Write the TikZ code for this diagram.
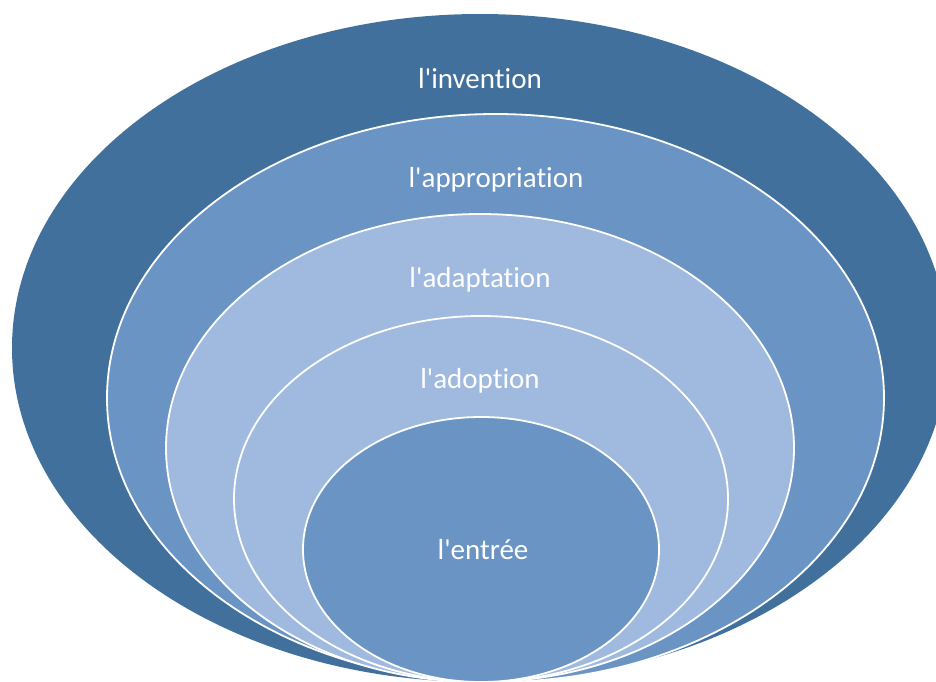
\documentclass[tikz,border=0pt]{standalone}
\usepackage{fontspec}
\setmainfont{Carlito}[Ligatures={TeXOff,CommonOff}]
\definecolor{ringdark}{HTML}{41709C}
\definecolor{ringmid}{HTML}{6A94C4}
\definecolor{ringlight}{HTML}{A0BADF}
\begin{document}
\begin{tikzpicture}[x=1pt,y=1pt,
    ring/.style={draw=white,line width=1.8pt},
    lbl/.style={text=white,font=\fontsize{29}{31}\selectfont,inner sep=0pt}]
    \useasboundingbox (0,0) rectangle (936,-681);
    \clip (0,0) rectangle (936,-681);
    % rings, from the outside in
    \fill[ringdark] (480,-348) ellipse [x radius=468, y radius=334];
    \filldraw[ring,fill=ringmid] (495.5,-398) ellipse [x radius=388.5, y radius=284];
    \filldraw[ring,fill=ringlight] (480,-448) ellipse [x radius=314, y radius=234];
    \filldraw[ring,fill=ringlight] (481,-499) ellipse [x radius=247, y radius=183];
    \filldraw[ring,fill=ringmid] (481,-549.5) ellipse [x radius=178, y radius=132.5];
    % labels
    \node[lbl] (invention) at (480,-79) {l'invention};
    \node[lbl] (appropriation) at (496,-180) {l'appropriation};
    \node[lbl] (adaptation) at (480,-280) {l'adaptation};
    \node[lbl] (adoption) at (480,-381) {l'adoption};
    \node[lbl] (entree) at (483,-550) {l'entrée};
\end{tikzpicture}
\end{document}
